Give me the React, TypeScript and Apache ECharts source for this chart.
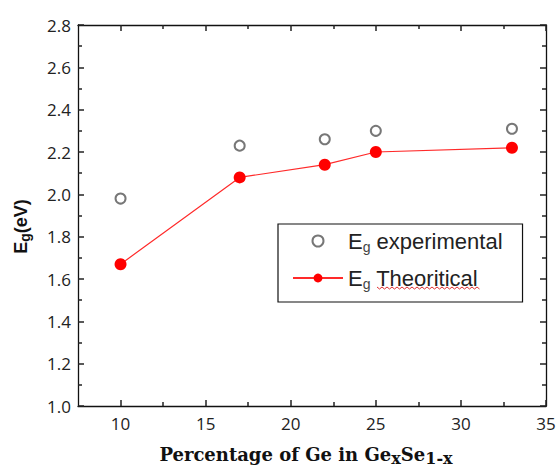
import React, { useEffect, useRef } from 'react';
import * as echarts from 'echarts';

const geContent = [10, 17, 22, 25, 33];
const egExperimental = [1.98, 2.23, 2.26, 2.3, 2.31];
const egTheoretical = [1.67, 2.08, 2.14, 2.2, 2.22];
const xMajorTicks = [10, 15, 20, 25, 30, 35];
const xMinorTicks = [12.5, 17.5, 22.5, 27.5, 32.5];
const xMin = 7.5;
const xMax = 35;
const yMin = 1.0;
const yMax = 2.8;
const yStep = 0.2;

const seriesNames = ['Eg experimental', 'Eg Theoritical'];
const legendLabels: Record<string, string> = {
  'Eg experimental': '{e|E}{g|g}{t| experimental}',
  'Eg Theoritical': '{e|E}{g|g}{t| Theoritical}',
};

const GRID = { left: 78, top: 25, width: 468, height: 381, containLabel: false, outerBoundsMode: 'none' };
const AXIS_COLOR = '#111';
const TICK_STYLE = { color: '#222', width: 1.5 };
const LABEL_FONT = "'Open Sans', sans-serif";

function wavePoints(x0: number, x1: number, y: number, step: number, amp: number) {
  const pts: number[][] = [];
  let k = 0;
  for (let x = x0; x <= x1; x += step) {
    pts.push([x, k % 2 === 0 ? y - amp : y + amp]);
    k++;
  }
  return pts;
}

export default function App() {
  const ref = useRef<HTMLDivElement>(null);
  useEffect(() => {
    if (!ref.current) return;
    const chart = echarts.init(ref.current, undefined, { renderer: 'svg' });
    chart.setOption({
      animation: false,
      backgroundColor: '#fff',
      grid: [{ ...GRID }, { ...GRID }],
      xAxis: [
        {
          type: 'value',
          gridIndex: 0,
          position: 'bottom',
          min: xMin,
          max: xMax,
          axisLine: { show: true, onZero: false, lineStyle: { color: AXIS_COLOR, width: 1.3 } },
          axisTick: { show: true, inside: true, length: 6, customValues: xMajorTicks, lineStyle: TICK_STYLE },
          axisLabel: {
            customValues: xMajorTicks,
            margin: 9,
            fontSize: 17,
            fontFamily: LABEL_FONT,
            color: '#222',
          },
          splitLine: { show: false },
          name: '{t|Percentage of Ge in Ge}{s|x}{t|Se}{s|1-x}',
          nameLocation: 'middle',
          nameGap: 36,
          nameTextStyle: {
            padding: [0, 12, 0, 0],
            rich: {
              t: { fontFamily: "'DejaVu Serif', serif", fontWeight: 'bold', fontSize: 18, color: '#111' },
              s: {
                fontFamily: "'DejaVu Serif', serif",
                fontWeight: 'bold',
                fontSize: 16,
                color: '#111',
                padding: [8, 0, 0, 0],
              },
            },
          },
        },
        {
          type: 'value',
          gridIndex: 0,
          position: 'top',
          min: xMin,
          max: xMax,
          axisLine: { show: true, onZero: false, lineStyle: { color: AXIS_COLOR, width: 1.3 } },
          axisTick: { show: true, inside: true, length: 6, customValues: xMajorTicks, lineStyle: TICK_STYLE },
          axisLabel: { show: false },
          splitLine: { show: false },
        },
        {
          type: 'value',
          gridIndex: 1,
          position: 'bottom',
          min: xMin,
          max: xMax,
          axisLine: { show: false },
          axisTick: { show: true, inside: true, length: 4, customValues: xMinorTicks, lineStyle: TICK_STYLE },
          axisLabel: { show: false },
          splitLine: { show: false },
        },
        {
          type: 'value',
          gridIndex: 1,
          position: 'top',
          min: xMin,
          max: xMax,
          axisLine: { show: false },
          axisTick: { show: true, inside: true, length: 4, customValues: xMinorTicks, lineStyle: TICK_STYLE },
          axisLabel: { show: false },
          splitLine: { show: false },
        },
      ],
      yAxis: [
        {
          type: 'value',
          gridIndex: 0,
          position: 'left',
          min: yMin,
          max: yMax,
          interval: yStep,
          axisLine: { show: true, onZero: false, lineStyle: { color: AXIS_COLOR, width: 1.3 } },
          axisTick: { show: true, inside: true, length: 6, lineStyle: TICK_STYLE },
          minorTick: { show: true, splitNumber: 2, length: 4, lineStyle: TICK_STYLE },
          axisLabel: {
            margin: 7,
            fontSize: 17,
            fontFamily: LABEL_FONT,
            color: '#222',
            formatter: (v: number) => v.toFixed(1),
          },
          splitLine: { show: false },
          name: '{e|E}{g|g}{e|(eV)}',
          nameLocation: 'middle',
          nameRotate: 90,
          nameGap: 46,
          nameTextStyle: {
            padding: [0, 22, 0, 0],
            rich: {
              e: { fontFamily: "'Liberation Sans', Arial, sans-serif", fontWeight: 'bold', fontSize: 18, color: '#111' },
              g: {
                fontFamily: "'Liberation Sans', Arial, sans-serif",
                fontWeight: 'bold',
                fontSize: 14,
                color: '#111',
                padding: [9, 0, 0, 0],
              },
            },
          },
        },
        {
          type: 'value',
          gridIndex: 0,
          position: 'right',
          min: yMin,
          max: yMax,
          interval: yStep,
          axisLine: { show: true, onZero: false, lineStyle: { color: AXIS_COLOR, width: 1.3 } },
          axisTick: { show: true, inside: true, length: 6, lineStyle: TICK_STYLE },
          minorTick: { show: true, splitNumber: 2, length: 4, lineStyle: TICK_STYLE },
          axisLabel: { show: false },
          splitLine: { show: false },
        },
        {
          type: 'value',
          gridIndex: 1,
          min: yMin,
          max: yMax,
          show: false,
        },
      ],
      legend: {
        orient: 'vertical',
        left: 278,
        top: 224,
        data: seriesNames,
        borderColor: '#111',
        borderWidth: 1.2,
        backgroundColor: '#fff',
        padding: [6, 20, 11, 14],
        itemGap: 13,
        itemWidth: 50,
        itemHeight: 11,
        selectedMode: false,
        formatter: (name: string) => legendLabels[name] ?? name,
        textStyle: {
          rich: {
            e: { fontFamily: "'Liberation Sans', Arial, sans-serif", fontSize: 22, color: '#222' },
            g: {
              fontFamily: "'Liberation Sans', Arial, sans-serif",
              fontSize: 14,
              color: '#444',
              padding: [12, 0, 0, 0],
            },
            t: { fontFamily: "'Liberation Sans', Arial, sans-serif", fontSize: 22, color: '#222' },
          },
        },
      },
      series: [
        {
          name: seriesNames[0],
          type: 'scatter',
          xAxisIndex: 0,
          yAxisIndex: 0,
          data: geContent.map((x, i) => [x, egExperimental[i]]),
          symbol: 'emptyCircle',
          symbolSize: 10,
          itemStyle: { color: '#555', borderColor: '#555', borderWidth: 1.4 },
          z: 3,
        },
        {
          name: seriesNames[1],
          type: 'line',
          xAxisIndex: 0,
          yAxisIndex: 0,
          data: geContent.map((x, i) => [x, egTheoretical[i]]),
          symbol: 'circle',
          symbolSize: 12,
          lineStyle: { color: '#ff2a2a', width: 1.2 },
          itemStyle: { color: '#ff0000' },
          z: 4,
        },
      ],
      graphic: [
        {
          type: 'polyline',
          z: 100,
          shape: { points: wavePoints(377, 480, 288, 2.5, 1) },
          style: { stroke: '#e03030', lineWidth: 1, fill: null },
        },
      ],
    });
    return () => chart.dispose();
  }, []);
  return (
    <div
      ref={ref}
      style={{ position: 'fixed', left: 0, top: 0, width: 558, height: 471, background: '#fff' }}
    />
  );
}
